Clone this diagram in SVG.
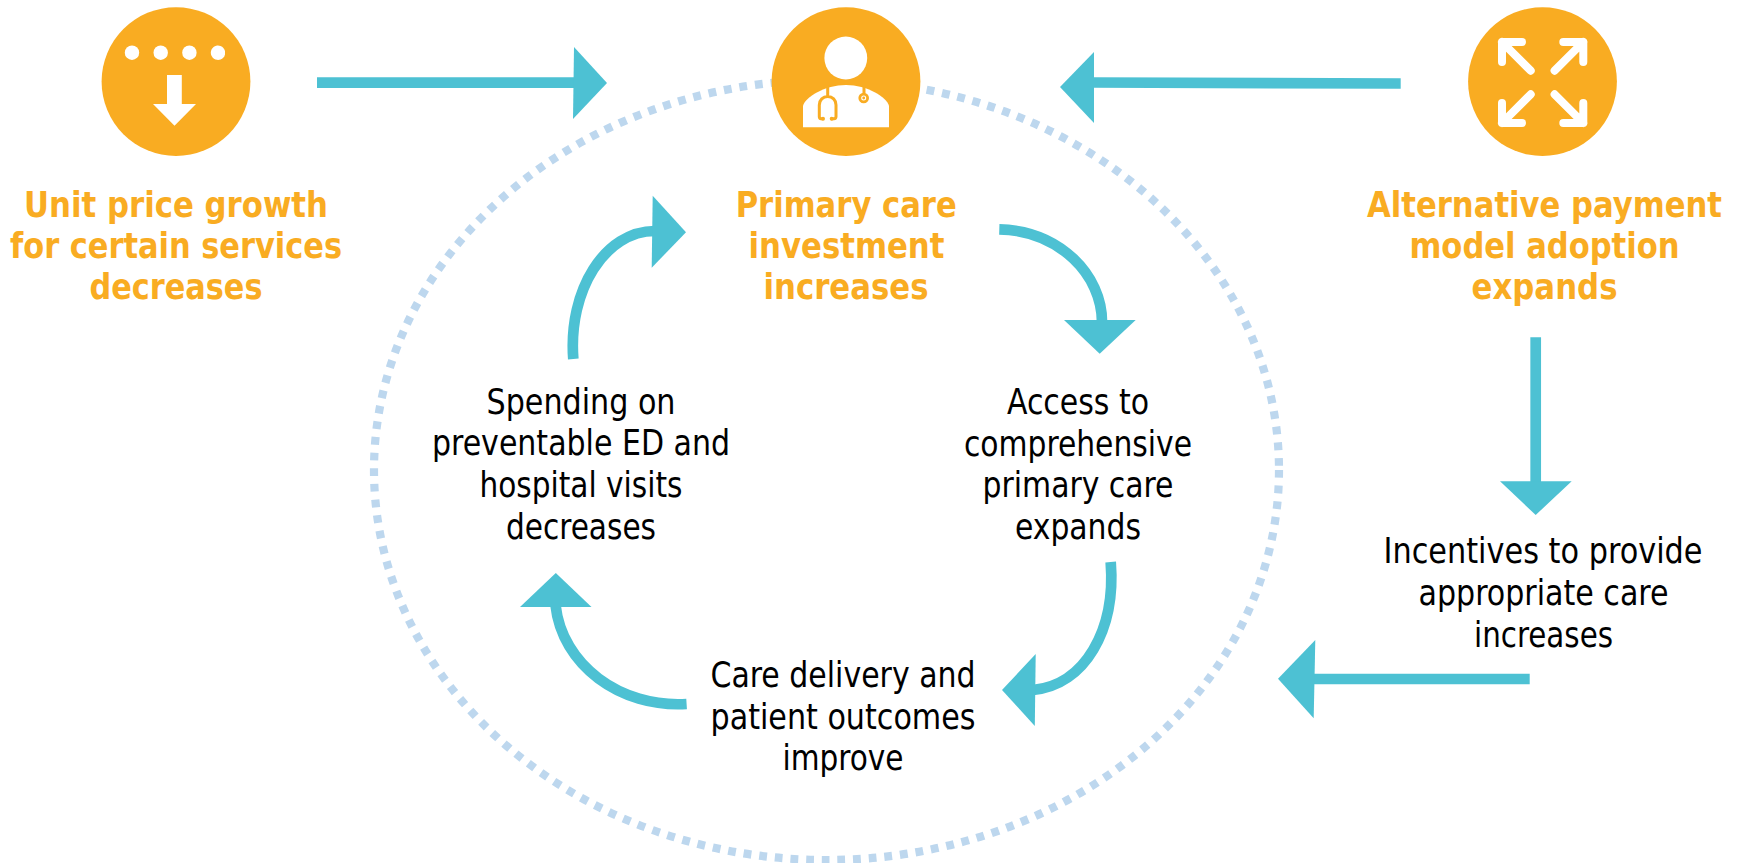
<svg xmlns="http://www.w3.org/2000/svg" width="1742" height="863" viewBox="0 0 1742 863">
<style>
.b{fill:#f9ac22}
.w{fill:#fff}
text{font-family:"DejaVu Sans Condensed","DejaVu Sans",sans-serif;font-stretch:condensed;text-anchor:middle}
.h{font-size:35px;font-weight:700;fill:#f9ac22}
.t{font-size:35px;fill:#000}
.ln{fill:none;stroke:#4dc1d3;stroke-width:10.7}
.hd{fill:#4dc1d3}
.ic{fill:none;stroke:#fff;stroke-width:8;stroke-linecap:round;stroke-linejoin:round}
.st{fill:none;stroke:#f9ac22;stroke-width:3;stroke-linecap:round}
</style>
<rect width="1742" height="863" fill="#fff"/>
<g id="cycle-ring"><ellipse cx="826.5" cy="470" rx="452.5" ry="390" fill="none" stroke="#bdd7ee" stroke-width="8.2" stroke-dasharray="7.8 7.9"/></g>
<g id="connectors">
<path class="ln" d="M317 82.7H575"/><polygon class="hd" points="574,47 607,83 573,119"/>
<path class="ln" d="M1400.7 83.5L1092 82.5"/><polygon class="hd" points="1094,52 1060,87 1094,123"/>
<path class="ln" d="M1535.7 337.3V483"/><polygon class="hd" points="1500,481.3 1571.7,481.3 1535.7,515"/>
<path class="ln" d="M1529.7 679H1313"/><polygon class="hd" points="1315.3,640 1278,678.7 1313.7,718.3"/>
<path class="ln" d="M999.3 229.3C1060 231 1102 275 1102 322"/><polygon class="hd" points="1064,320 1135.7,320 1099.7,353.7"/>
<path class="ln" d="M1110.7 562C1116 630 1085 685 1033 690"/><polygon class="hd" points="1035.7,654 1002,690 1034.8,726"/>
<path class="ln" d="M686.6 704C620 708 562 665 555.5 605"/><polygon class="hd" points="520,607 591.5,607 555.8,573"/>
<path class="ln" d="M573.3 359C568 290 605 231 655 231"/><polygon class="hd" points="652.7,195.7 686,232.3 651.7,267.7"/>
</g>
<g id="node-unit-price">
<circle class="b" cx="176" cy="81.6" r="74.4"/>
<circle class="w" cx="132" cy="52.7" r="7.2"/><circle class="w" cx="160.7" cy="52.7" r="7.2"/><circle class="w" cx="189.4" cy="52.7" r="7.2"/>
<path class="w" d="M225 51A7.2 7.2 0 1 0 225 54.4Z"/>
<polygon class="w" points="167,75 181.8,75 181.8,104 196,104 174.5,125.7 153,104 167,104"/>
<text class="h" x="176" y="217" textLength="304" lengthAdjust="spacingAndGlyphs">Unit price growth</text>
<text class="h" x="176" y="258" textLength="332" lengthAdjust="spacingAndGlyphs">for certain services</text>
<text class="h" x="176" y="299" textLength="173" lengthAdjust="spacingAndGlyphs">decreases</text>
</g>
<g id="node-primary-care">
<circle class="b" cx="846" cy="81.6" r="74.4"/>
<circle class="w" cx="845.8" cy="58" r="21.4"/>
<path class="w" d="M803 127.3V106C805 97 825 85 846 85C867 85 887 97 889 106V127.3Z"/>
<path class="st" d="M827.7 87V96M822.7 118.7H821Q819.3 118.7 819.3 116.5V105C819.3 100 823 96.5 827.7 96.5C832.5 96.5 836 100 836 105V116.5Q836 118.7 834 118.7H831.7M864 87V93"/>
<circle cx="823" cy="118.7" r="2" class="b"/><circle cx="831.7" cy="118.7" r="2" class="b"/>
<circle cx="863.7" cy="98" r="3.9" fill="#fff" stroke="#f9ac22" stroke-width="2.8"/><circle cx="863.7" cy="98" r="1.4" class="b"/>
<text class="h" x="846.2" y="217" textLength="221" lengthAdjust="spacingAndGlyphs">Primary care</text>
<text class="h" x="846.5" y="258" textLength="196" lengthAdjust="spacingAndGlyphs">investment</text>
<text class="h" x="846" y="299" textLength="165" lengthAdjust="spacingAndGlyphs">increases</text>
</g>
<g id="node-apm">
<circle class="b" cx="1542.5" cy="81.6" r="74.4"/>
<path class="ic" d="M1522 42H1502V62M1502 42L1530.7 70.7"/>
<path class="ic" d="M1563.3 42H1583.3V62M1583.3 42L1554.6 70.7"/>
<path class="ic" d="M1522 123H1502V103M1502 123L1530.7 94.3"/>
<path class="ic" d="M1563.3 123H1583.3V103M1583.3 123L1554.6 94.3"/>
<text class="h" x="1544.5" y="217" textLength="355" lengthAdjust="spacingAndGlyphs">Alternative payment</text>
<text class="h" x="1544.5" y="258" textLength="270" lengthAdjust="spacingAndGlyphs">model adoption</text>
<text class="h" x="1544.5" y="299" textLength="146" lengthAdjust="spacingAndGlyphs">expands</text>
</g>
<g id="node-access">
<text class="t" x="1078" y="413.5" textLength="142" lengthAdjust="spacingAndGlyphs">Access to</text>
<text class="t" x="1078" y="455.5" textLength="228" lengthAdjust="spacingAndGlyphs">comprehensive</text>
<text class="t" x="1078" y="497" textLength="191" lengthAdjust="spacingAndGlyphs">primary care</text>
<text class="t" x="1078" y="539" textLength="126" lengthAdjust="spacingAndGlyphs">expands</text>
</g>
<g id="node-care-delivery">
<text class="t" x="843" y="687" textLength="265" lengthAdjust="spacingAndGlyphs">Care delivery and</text>
<text class="t" x="843" y="728.5" textLength="265" lengthAdjust="spacingAndGlyphs">patient outcomes</text>
<text class="t" x="843" y="770" textLength="121" lengthAdjust="spacingAndGlyphs">improve</text>
</g>
<g id="node-spending">
<text class="t" x="581" y="413.5" textLength="189" lengthAdjust="spacingAndGlyphs">Spending on</text>
<text class="t" x="581" y="455" textLength="298" lengthAdjust="spacingAndGlyphs">preventable ED and</text>
<text class="t" x="581" y="497" textLength="203" lengthAdjust="spacingAndGlyphs">hospital visits</text>
<text class="t" x="581" y="538.5" textLength="150" lengthAdjust="spacingAndGlyphs">decreases</text>
</g>
<g id="node-incentives">
<text class="t" x="1543" y="563" textLength="319" lengthAdjust="spacingAndGlyphs">Incentives to provide</text>
<text class="t" x="1543.5" y="605" textLength="250" lengthAdjust="spacingAndGlyphs">appropriate care</text>
<text class="t" x="1543.5" y="646.5" textLength="139" lengthAdjust="spacingAndGlyphs">increases</text>
</g>
</svg>
